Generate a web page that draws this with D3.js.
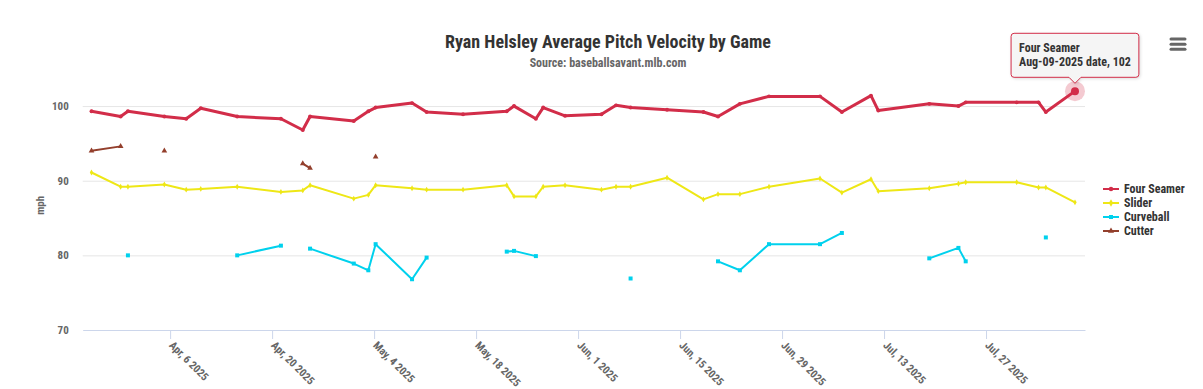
<!DOCTYPE html>
<html>
<head>
<meta charset="utf-8">
<script src="https://cdn.jsdelivr.net/npm/d3@7"></script>
<style>
  body { margin: 0; background: #fff; }
  text { font-family: "Roboto Condensed", "Liberation Sans Narrow", "DejaVu Sans Condensed", Roboto, sans-serif; font-weight: bold; }
</style>
</head>
<body>
<div id="my_dataviz"></div>
<script>
// game dates (one entry per appearance)
const gameDates = ["2025-03-27", "2025-03-31", "2025-04-01", "2025-04-06", "2025-04-09", "2025-04-11", "2025-04-16", "2025-04-22",
  "2025-04-25", "2025-04-26", "2025-05-02", "2025-05-04", "2025-05-05", "2025-05-10", "2025-05-12", "2025-05-17",
  "2025-05-23", "2025-05-24", "2025-05-27", "2025-05-28", "2025-05-31", "2025-06-05", "2025-06-07", "2025-06-09",
  "2025-06-14", "2025-06-19", "2025-06-21", "2025-06-24", "2025-06-28", "2025-07-05", "2025-07-08", "2025-07-12",
  "2025-07-13", "2025-07-20", "2025-07-24", "2025-07-25", "2025-08-01", "2025-08-04", "2025-08-05", "2025-08-09"];

// average velocity (mph) per game, null = pitch not thrown
const fourSeamer = [99.3, 98.6, 99.3, 98.6, 98.3, 99.7, 98.6, 98.3, 96.8, 98.6, 98.0, 99.3, 99.8, 100.4, 99.2, 98.9,
  99.3, 100.0, 98.3, 99.8, 98.7, 98.9, 100.1, 99.8, 99.5, 99.2, 98.6, 100.3, 101.3, 101.3, 99.2, 101.4,
  99.4, 100.3, 100.0, 100.5, 100.5, 100.5, 99.2, 102];
const slider = [91.1, 89.2, 89.2, 89.5, 88.8, 88.9, 89.2, 88.5, 88.7, 89.4, 87.6, 88.1, 89.4, 89.0, 88.8, 88.8,
  89.4, 87.9, 87.9, 89.2, 89.4, 88.8, 89.2, 89.2, 90.4, 87.5, 88.2, 88.2, 89.2, 90.3, 88.4, 90.2,
  88.6, 89.0, 89.6, 89.8, 89.8, 89.1, 89.1, 87.1];
const curveball = [null, null, 80.0, null, null, null, 80.0, 81.3, null, 80.9, 78.9, 78.0, 81.5, 76.8, 79.7, null,
  80.5, 80.6, 79.9, null, null, null, null, 76.9, null, null, 79.2, 78.0, 81.5, 81.5, 83.0, null,
  null, 79.6, 81.0, 79.2, null, null, 82.4, null];
const cutter = [94.0, 94.6, null, 94.0, null, null, null, null, 92.3, 91.7, null, null, 93.2, null, null, null,
  null, null, null, null, null, null, null, null, null, null, null, null, null, null, null, null,
  null, null, null, null, null, null, null, null];

const seriesNames = ["Four Seamer", "Slider", "Curveball", "Cutter"];
const yTicks = [70, 80, 90, 100];
const xTicks = ["2025-04-06", "2025-04-20", "2025-05-04", "2025-05-18", "2025-06-01", "2025-06-15", "2025-06-29", "2025-07-13", "2025-07-27"];

const parseDate = d3.timeParse("%Y-%m-%d");
const series = [
  {name: seriesNames[0], values: fourSeamer, color: "#d22d49", symbol: d3.symbolCircle, size: 12, width: 3},
  {name: seriesNames[1], values: slider, color: "#eee716", symbol: d3.symbolDiamond, size: 10, width: 2},
  {name: seriesNames[2], values: curveball, color: "#00d1ed", symbol: d3.symbolSquare, size: 16, width: 2},
  {name: seriesNames[3], values: cutter, color: "#933f2c", symbol: d3.symbolTriangle, size: 14, width: 2}
].map(s => ({...s, points: gameDates.map((g, i) => ({date: parseDate(g), v: s.values[i]}))}));

const margin = {top: 80.7, right: 118, bottom: 59, left: 82.7},
  width = 1002.3,
  height = 249.3;

const svg = d3.select("#my_dataviz")
  .append("svg")
  .attr("width", 1203)
  .attr("height", 389);

const g = svg.append("g")
  .attr("transform", `translate(${margin.left}, ${margin.top})`);

// points are stamped in UTC, axis in local time
const stampShift = 19 * 3600 * 1000;
const x = d3.scaleTime()
  .domain([parseDate("2025-03-25"), new Date(2025, 7, 9, 14)])
  .range([0, width]);
const px = d => x(new Date(d.date.getTime() - stampShift));

const y = d3.scaleLinear()
  .domain([70, 103.4])
  .range([height, 0]);

// Y axis + grid
const yAxis = g.append("g")
  .call(d3.axisLeft(y).tickValues(yTicks).tickSize(-width).tickPadding(14));
yAxis.select(".domain").remove();
yAxis.selectAll(".tick line")
  .attr("stroke", d => d === 70 ? "none" : "#e6e6e6");
yAxis.selectAll(".tick text")
  .style("font-size", "11px")
  .attr("fill", "#666");

// X axis
const xAxis = g.append("g")
  .attr("transform", `translate(0, ${height})`)
  .call(d3.axisBottom(x)
    .tickValues(xTicks.map(parseDate))
    .tickSize(9)
    .tickSizeOuter(0)
    .tickFormat(d3.timeFormat("%b, %-d %Y")));
xAxis.select(".domain").attr("stroke", "#ccd6eb");
xAxis.selectAll(".tick line").attr("stroke", "#ccd6eb");
xAxis.selectAll(".tick text")
  .attr("x", 0).attr("y", 0).attr("dy", 0)
  .attr("text-anchor", "start")
  .attr("transform", "translate(-2, 16) rotate(45)")
  .style("font-size", "11px")
  .attr("fill", "#666");

// y axis title
svg.append("text")
  .attr("transform", `translate(44, ${margin.top + height / 2}) rotate(-90)`)
  .attr("text-anchor", "middle")
  .style("font-size", "11px")
  .attr("fill", "#666")
  .text("mph");

// lines
const line = d3.line()
  .defined(d => d.v != null)
  .x(px)
  .y(d => y(d.v));

series.slice().reverse().forEach(s => {
  g.append("path")
    .datum(s.points)
    .attr("fill", "none")
    .attr("stroke", s.color)
    .attr("stroke-width", s.width)
    .attr("stroke-linejoin", "round")
    .attr("stroke-linecap", "round")
    .attr("d", line);
  g.selectAll(null)
    .data(s.points.filter(d => d.v != null))
    .join("path")
    .attr("transform", d => `translate(${px(d)}, ${y(d.v)})`)
    .attr("d", d3.symbol().type(s.symbol).size(s.size))
    .attr("fill", s.color);
});

// hovered point
const hs = series[0];
const hp = hs.points[hs.points.length - 1];
const hx = px(hp), hy = y(hp.v);
g.append("circle").attr("cx", hx).attr("cy", hy).attr("r", 10)
  .attr("fill", hs.color).attr("opacity", 0.25);
g.append("circle").attr("cx", hx).attr("cy", hy).attr("r", 4)
  .attr("fill", hs.color);

// legend
const legend = svg.append("g")
  .attr("transform", "translate(1103, 189)");
series.forEach((s, i) => {
  const row = legend.append("g").attr("transform", `translate(0, ${i * 14})`);
  row.append("line")
    .attr("x1", 0).attr("x2", 16)
    .attr("stroke", s.color).attr("stroke-width", 2);
  row.append("path")
    .attr("transform", "translate(8, 0)")
    .attr("d", d3.symbol().type(s.symbol).size(16))
    .attr("fill", s.color);
  row.append("text")
    .attr("x", 21)
    .attr("dy", "0.35em")
    .style("font-size", "12px")
    .attr("fill", "#333")
    .text(s.name);
});

// title
svg.append("text")
  .attr("x", 608)
  .attr("y", 48)
  .attr("text-anchor", "middle")
  .style("font-size", "18px")
  .attr("fill", "#333")
  .text("Ryan Helsley Average Pitch Velocity by Game");

svg.append("text")
  .attr("x", 608)
  .attr("y", 66.5)
  .attr("text-anchor", "middle")
  .style("font-size", "12px")
  .attr("fill", "#666")
  .text("Source: baseballsavant.mlb.com");

// menu icon
[39, 44.3, 49.3].forEach(yy => {
  svg.append("line")
    .attr("x1", 1171).attr("x2", 1185)
    .attr("y1", yy).attr("y2", yy)
    .attr("stroke", "#666").attr("stroke-width", 3).attr("stroke-linecap", "round");
});

// tooltip
const tip = svg.append("g");
const tipX = margin.left + hx, tipY = margin.top + hy;
const tipBox = tip.append("path");
const t1 = tip.append("text").style("font-size", "12px").attr("fill", "#333").text(hs.name);
const t2 = tip.append("text").style("font-size", "12px").attr("fill", "#333")
  .text(`${d3.timeFormat("%b-%d-%Y")(hp.date)} date, ${hp.v}`);
const tw = Math.max(t1.node().getComputedTextLength(), t2.node().getComputedTextLength()) + 16;
const bx = tipX - tw / 2, by = 33.3, bh = 44, ab = by + bh;
tipBox
  .attr("d", `M${bx + 3},${by} H${bx + tw - 3} Q${bx + tw},${by} ${bx + tw},${by + 3} V${ab - 3} Q${bx + tw},${ab} ${bx + tw - 3},${ab}
    H${tipX + 6} L${tipX},${ab + 6} L${tipX - 6},${ab} H${bx + 3} Q${bx},${ab} ${bx},${ab - 3} V${by + 3} Q${bx},${by} ${bx + 3},${by} Z`)
  .attr("fill", "rgba(247,247,247,0.9)")
  .attr("stroke", hs.color)
  .attr("stroke-width", 1)
  .style("filter", "drop-shadow(1px 1px 1.5px rgba(0,0,0,0.15))");
t1.attr("x", bx + 8).attr("y", 51.5);
t2.attr("x", bx + 8).attr("y", 65.5);
</script>
</body>
</html>
